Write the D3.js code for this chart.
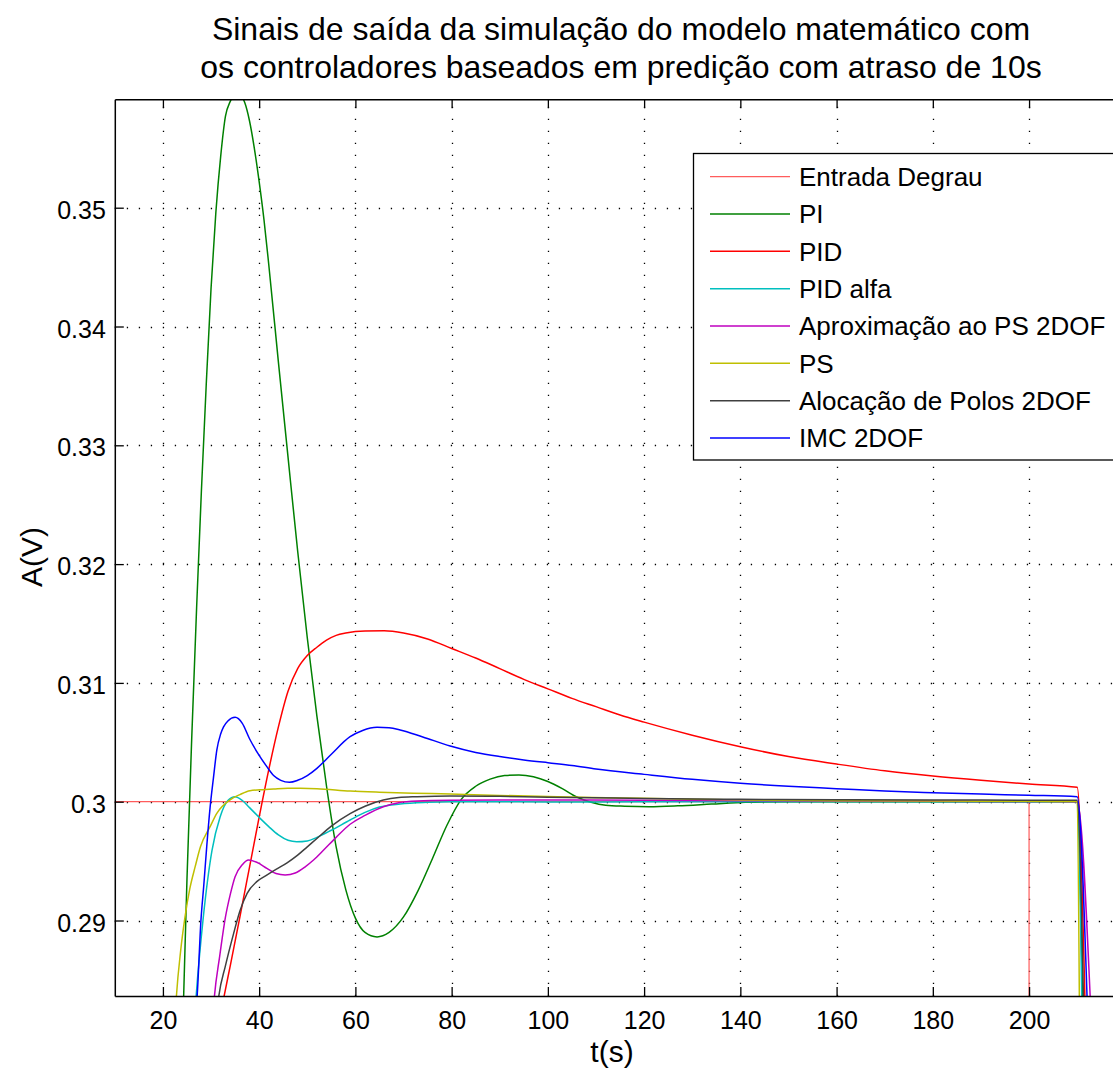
<!DOCTYPE html>
<html>
<head>
<meta charset="utf-8">
<script src="https://cdn.jsdelivr.net/npm/d3@7"></script>
<style>
body { margin: 0; background: #fff; }
text { font-family: "Liberation Sans", Arial, Helvetica, sans-serif; fill: #000; }
</style>
</head>
<body>
<svg id="chart" width="1113" height="1068"></svg>
<script>
// values: [t (s), A (V)]
var Degrau = [[0, 0.3], [200, 0.3], [200, 0.25], [220, 0.25]];

var PI = [[23.6, 0.274], [24.3, 0.2835], [25, 0.2935], [26, 0.3055], [27, 0.3163], [28, 0.3262],
	[29, 0.3351], [30, 0.3432], [31, 0.3496], [32, 0.3543], [33, 0.3577], [34, 0.35895], [35, 0.35955],
	[36, 0.3595], [37, 0.35885], [38, 0.3573], [39, 0.3550], [40, 0.3522], [41, 0.3490], [42, 0.3452],
	[44, 0.3370], [46, 0.3290], [48, 0.3211], [50, 0.3138], [52, 0.3072], [54, 0.3013], [56, 0.2962],
	[58, 0.2926], [60, 0.2902], [62, 0.2890], [64.5, 0.28862], [67, 0.2890], [70, 0.2903], [73, 0.2925],
	[76, 0.2952], [79, 0.2980], [82, 0.3002], [85, 0.3013], [88, 0.3019], [91, 0.3022], [94, 0.30225],
	[97, 0.3021], [100, 0.3017], [103, 0.3011], [106, 0.3004], [109, 0.29995], [112, 0.2997],
	[116, 0.29962], [121, 0.29958], [127, 0.29965], [134, 0.2998], [141, 0.29995], [150, 0.3],
	[170, 0.3], [190, 0.3], [210, 0.3], [211.1, 0.2836]];

var PID = [[31.5, 0.2810], [32.7, 0.2836], [34, 0.2862], [36, 0.2903], [38, 0.2945], [40, 0.2987],
	[42, 0.3027], [44, 0.3063], [46, 0.3093], [48, 0.3112], [50, 0.3123], [52, 0.3130], [54, 0.3136],
	[56, 0.3140], [58, 0.3142], [62, 0.31437], [66, 0.31438], [70, 0.3142], [75, 0.3137], [80, 0.3129],
	[85, 0.3121], [90, 0.3112], [95, 0.3103], [100, 0.3095], [105, 0.3087], [110, 0.3080], [115, 0.3073],
	[120, 0.3067], [130, 0.3056], [140, 0.30463], [150, 0.3038], [160, 0.30317], [170, 0.3026],
	[180, 0.30216], [190, 0.3018], [200, 0.30149], [210, 0.30121], [211.6, 0.2836]];

var PIDalfa = [[26.3, 0.2800], [26.9, 0.2836], [28.4, 0.2903], [30.2, 0.2959], [31.9, 0.29874],
	[33.5, 0.3001], [35, 0.30042], [36.5, 0.3001], [38, 0.2995], [40.2, 0.2986], [42, 0.2979],
	[44, 0.2972], [46, 0.29675], [47.8, 0.29663], [50, 0.2967], [52, 0.2970], [55, 0.2976],
	[58.9, 0.29846], [62, 0.2991], [65, 0.29955], [69.3, 0.29981], [75, 0.29995], [79.7, 0.3],
	[90, 0.3], [100, 0.29998], [120, 0.29999], [150, 0.3], [180, 0.3], [210, 0.3], [210.95, 0.2836]];

var AproxPS = [[30.2, 0.2810], [30.7, 0.2836], [31.8, 0.2870], [33, 0.2903], [34, 0.2922],
	[35, 0.29369], [36.5, 0.2947], [37.8, 0.29509], [39.5, 0.2949], [41.6, 0.29439], [43.5, 0.29395],
	[45.4, 0.29383], [47.5, 0.2940], [49.5, 0.2945], [51.3, 0.29509], [53.4, 0.29593], [56, 0.2970],
	[58.9, 0.2981], [62, 0.29885], [65.8, 0.29958], [69, 0.29992], [72.8, 0.30006], [79.7, 0.30012],
	[90, 0.30014], [100, 0.30014], [120, 0.30012], [140, 0.30008], [160, 0.30005], [180, 0.30003],
	[200, 0.30002], [210, 0.3], [212.7, 0.2836]];

var PS = [[22.3, 0.2800], [22.8, 0.2836], [23.7, 0.2875], [24.6, 0.29032], [25.6, 0.2927],
	[26.7, 0.29453], [27.8, 0.29621], [29.8, 0.2979], [31.2, 0.29902], [34.2, 0.30022], [36, 0.3006],
	[38.1, 0.30093], [40.2, 0.30100], [43, 0.30107], [46, 0.30113], [48.5, 0.30113], [52, 0.3011],
	[58.9, 0.3009], [65, 0.3008], [72, 0.30072], [79.7, 0.30065], [90, 0.30053], [102, 0.30042],
	[115, 0.30032], [130, 0.3002], [145, 0.30012], [160, 0.30008], [180, 0.30005], [200, 0.30003],
	[210, 0.30002], [210.45, 0.2836]];

var AlocPolos = [[31, 0.2815], [31.6, 0.2836], [33, 0.2862], [34.7, 0.28892], [36, 0.2908],
	[37.5, 0.29229], [39.5, 0.29327], [41.5, 0.2938], [43.5, 0.2943], [45.8, 0.29485], [48, 0.2955],
	[50, 0.2962], [52, 0.2969], [55, 0.29795], [58.9, 0.2990], [62, 0.29962], [65.8, 0.30014],
	[69, 0.30035], [72.8, 0.30042], [79.7, 0.30048], [90, 0.30045], [100, 0.30038], [120, 0.30028],
	[140, 0.3002], [160, 0.30016], [180, 0.30014], [200, 0.30013], [210, 0.30012], [211.3, 0.2836]];

var IMC = [[26.5, 0.2815], [27.1, 0.2836], [27.9, 0.2900], [28.5, 0.2930], [29.1, 0.2962],
	[29.8, 0.2995], [30.5, 0.3020], [31.2, 0.30435], [32, 0.3057], [32.6, 0.3063], [33.5, 0.3068],
	[35, 0.3071], [36.5, 0.3066], [38, 0.3053], [40, 0.3039], [41.6, 0.30295], [43, 0.3022],
	[44.5, 0.3018], [46.3, 0.30163], [48, 0.3018], [50, 0.3022], [52, 0.30281], [55, 0.3040],
	[58.9, 0.30547], [61.5, 0.30600], [64.5, 0.30626], [67, 0.30622], [69.3, 0.30604], [74, 0.30545],
	[79.7, 0.30469], [85, 0.30415], [90, 0.3038], [95, 0.30352], [100, 0.30328], [105, 0.30305],
	[110, 0.30275], [120, 0.3023], [130, 0.30188], [140, 0.30155], [150, 0.3013], [160, 0.3011],
	[170, 0.3009], [180, 0.30076], [190, 0.30064], [200, 0.30054], [210, 0.30042], [212.05, 0.2836]];

var SeriesNames = ["Entrada Degrau", "PI", "PID", "PID alfa", "Aproximação ao PS 2DOF", "PS",
	"Alocação de Polos 2DOF", "IMC 2DOF"];
var SeriesData = [Degrau, PI, PID, PIDalfa, AproxPS, PS, AlocPolos, IMC];
var SeriesColors = ["#ff5c5c", "#008000", "#ff0000", "#00bfbf", "#bf00bf", "#bfbf00", "#404040", "#0000ff"];

var XTicks = [20, 40, 60, 80, 100, 120, 140, 160, 180, 200];
var YTicks = [0.29, 0.30, 0.31, 0.32, 0.33, 0.34, 0.35];
var XDomain = [10, 220];
var YDomain = [0.283645, 0.359125];

var TitleLines = ["Sinais de saída da simulação do modelo matemático com",
	"os controladores baseados em predição com atraso de 10s"];

var Left = 114.8, Right = 1125.3, Top = 99.3, Bottom = 996;

var svg = d3.select("#chart");
svg.append("rect").attr("width", 1113).attr("height", 1068).attr("fill", "#fff");

var x = d3.scaleLinear().domain(XDomain).range([Left, Right]);
var y = d3.scaleLinear().domain(YDomain).range([Bottom, Top]);

svg.append("defs").append("clipPath").attr("id", "plotclip")
	.append("rect")
	.attr("x", Left).attr("y", Top)
	.attr("width", Right - Left).attr("height", Bottom - Top);

// dotted grid
var grid = svg.append("g").attr("class", "grid");
grid.selectAll("line.gx")
	.data(XTicks)
	.enter()
	.append("line")
	.attr("x1", function(d) { return Math.round(x(d)) + 0.5; })
	.attr("x2", function(d) { return Math.round(x(d)) + 0.5; })
	.attr("y1", Bottom).attr("y2", Top)
	.attr("stroke", "#000").attr("stroke-width", 1.3)
	.attr("stroke-dasharray", "1.3,10.7");
grid.selectAll("line.gy")
	.data(YTicks)
	.enter()
	.append("line")
	.attr("y1", function(d) { return Math.round(y(d)) + 0.5; })
	.attr("y2", function(d) { return Math.round(y(d)) + 0.5; })
	.attr("x1", Left).attr("x2", Right)
	.attr("stroke", "#000").attr("stroke-width", 1.3)
	.attr("stroke-dasharray", "1.3,10.7");

// curves
var line = d3.line()
	.x(function(d) { return x(d[0]); })
	.y(function(d) { return y(d[1]); });

var curves = svg.append("g").attr("clip-path", "url(#plotclip)");
curves.selectAll("path")
	.data(SeriesData)
	.enter()
	.append("path")
	.attr("d", function(d, i) {
		return line.curve(i == 0 ? d3.curveLinear : d3.curveMonotoneX)(d);
	})
	.attr("fill", "none")
	.attr("stroke", function(d, i) { return SeriesColors[i]; })
	.attr("stroke-width", function(d, i) { return i == 0 ? 1.2 : 1.5; });

// axes, ticks pointing inwards
var TickLen = 9;
var xAxisB = svg.append("g").attr("transform", "translate(0," + Bottom + ")")
	.call(d3.axisBottom(x).tickValues(XTicks).tickSizeInner(-TickLen).tickSizeOuter(0).tickPadding(15.5));
var xAxisT = svg.append("g").attr("transform", "translate(0," + Top + ")")
	.call(d3.axisTop(x).tickValues(XTicks).tickSizeInner(-TickLen).tickSizeOuter(0).tickFormat(""));
var yAxisL = svg.append("g").attr("transform", "translate(" + Left + ",0)")
	.call(d3.axisLeft(y).tickValues(YTicks).tickSizeInner(-TickLen).tickSizeOuter(0).tickPadding(9)
		.tickFormat(function(d) { return d3.format("")(+d.toFixed(2)); }));
var yAxisR = svg.append("g").attr("transform", "translate(" + Right + ",0)")
	.call(d3.axisRight(y).tickValues(YTicks).tickSizeInner(-TickLen).tickSizeOuter(0).tickFormat(""));

[xAxisB, xAxisT, yAxisL, yAxisR].forEach(function(a) {
	a.select(".domain").attr("stroke", "#000").attr("stroke-width", 1.5);
	a.selectAll(".tick line").attr("stroke", "#000").attr("stroke-width", 1.3);
	a.selectAll(".tick text").style("font-size", "25px").attr("font-family", null).attr("fill", "#000");
});
yAxisL.selectAll(".tick text").attr("dy", "0.42em");

// axis labels
svg.append("text")
	.attr("x", 612).attr("y", 1062)
	.attr("text-anchor", "middle")
	.style("font-size", "30px")
	.text("t(s)");
svg.append("text")
	.attr("transform", "translate(42,557) rotate(-90)")
	.attr("text-anchor", "middle")
	.style("font-size", "30px")
	.text("A(V)");

// title
svg.selectAll("text.title")
	.data(TitleLines)
	.enter()
	.append("text")
	.attr("class", "title")
	.attr("x", 621)
	.attr("y", function(d, i) { return 40 + i * 37.5; })
	.attr("text-anchor", "middle")
	.style("font-size", "32px")
	.text(function(d) { return d; });

// legend
var legend = svg.append("g");
legend.append("rect")
	.attr("x", 693.5).attr("y", 153.5)
	.attr("width", 460).attr("height", 306.5)
	.attr("fill", "#fff").attr("stroke", "#000").attr("stroke-width", 1.3);
var Row0 = 176.7, RowStep = 37.33;
var rows = legend.selectAll("g.row")
	.data(SeriesNames)
	.enter()
	.append("g");
rows.append("line")
	.attr("x1", 710).attr("x2", 790)
	.attr("y1", function(d, i) { return Row0 + i * RowStep; })
	.attr("y2", function(d, i) { return Row0 + i * RowStep; })
	.attr("stroke", function(d, i) { return SeriesColors[i]; })
	.attr("stroke-width", function(d, i) { return i == 0 ? 1.2 : 1.5; });
rows.append("text")
	.attr("x", 799)
	.attr("y", function(d, i) { return Row0 + i * RowStep + 9.3; })
	.style("font-size", "26px")
	.text(function(d) { return d; });
</script>
</body>
</html>
